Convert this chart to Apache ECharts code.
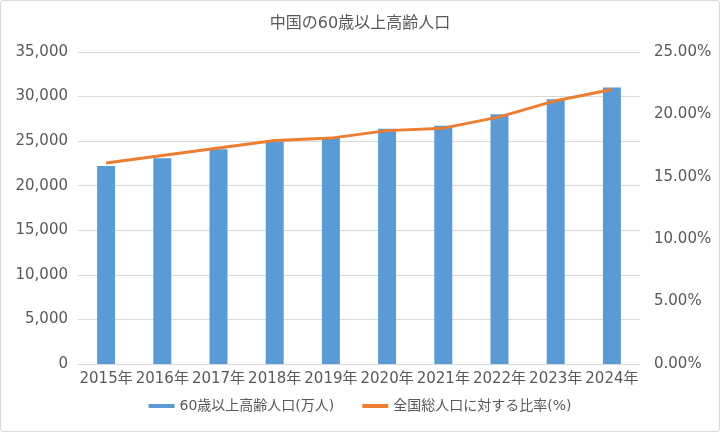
<!DOCTYPE html>
<html><head><meta charset="utf-8">
<script src="https://cdn.jsdelivr.net/npm/echarts@6/dist/echarts.min.js"></script>
<style>html,body{margin:0;padding:0;background:#fff;}#c{width:718px;height:430px;border:1px solid #d9d9d9;border-radius:3px;}</style>
</head><body><div id="c"></div>
<script>
const categories = ['2015年','2016年','2017年','2018年','2019年','2020年','2021年','2022年','2023年','2024年'];
const population = [22200,23086,24090,24949,25388,26402,26736,28004,29697,31031];
const ratio = [16.1,16.7,17.3,17.9,18.1,18.7,18.9,19.8,21.1,22.0];
const font = '"DejaVu Sans","Noto Sans CJK JP",sans-serif';
const chart = echarts.init(document.getElementById('c'));
chart.setOption({
  animation:false,
  textStyle:{fontFamily:font},
  title:{text:'中国の60歳以上高齢人口',left:'center',top:10,textStyle:{fontSize:16,fontWeight:'normal',color:'#595959',fontFamily:font}},
  legend:{bottom:13,itemGap:28,itemWidth:26,itemHeight:4,textStyle:{fontSize:14,color:'#595959',fontFamily:font},
    data:[{name:'60歳以上高齢人口(万人)',icon:'rect'},{name:'全国総人口に対する比率(%)',icon:'rect'}]},
  grid:{left:77,right:79,top:51,bottom:67},
  xAxis:{type:'category',data:categories,axisTick:{show:false},axisLine:{lineStyle:{color:'#d9d9d9'}},
    axisLabel:{fontSize:15,color:'#595959',margin:8,interval:0,fontFamily:font}},
  yAxis:[
    {type:'value',min:0,max:35000,interval:5000,axisLine:{show:false},axisTick:{show:false},
     splitLine:{lineStyle:{color:'#d9d9d9'}},
     axisLabel:{fontSize:15,color:'#595959',margin:10,fontFamily:font,formatter:v=>v.toLocaleString('en-US')}},
    {type:'value',min:0,max:25,interval:5,axisLine:{show:false},axisTick:{show:false},splitLine:{show:false},
     axisLabel:{fontSize:15,color:'#595959',margin:14,fontFamily:font,formatter:v=>v.toFixed(2)+'%'}}
  ],
  series:[
    {name:'60歳以上高齢人口(万人)',type:'bar',data:population,barWidth:18,itemStyle:{color:'#5b9bd5'}},
    {name:'全国総人口に対する比率(%)',type:'line',yAxisIndex:1,data:ratio,symbol:'none',lineStyle:{color:'#ed7d31',width:3},itemStyle:{color:'#ed7d31'}}
  ]
});
</script></body></html>
